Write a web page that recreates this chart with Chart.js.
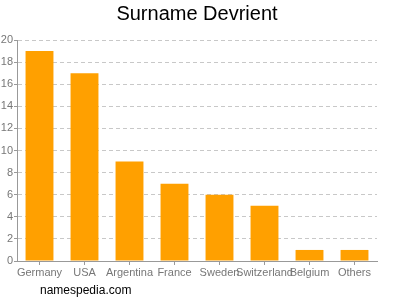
<!DOCTYPE html>
<html>
<head>
<meta charset="utf-8">
<script src="https://cdn.jsdelivr.net/npm/chart.js@4"></script>
<style>
    html, body { margin: 0; padding: 0; background: #fff; }
    #wrap { width: 400px; height: 300px; }
</style>
</head>
<body>
<div id="wrap"><canvas id="chartSurname" width="400" height="300"></canvas></div>
<script>
const countries = ['Germany', 'USA', 'Argentina', 'France', 'Sweden', 'Switzerland', 'Belgium', 'Others'];
const counts = [19, 17, 9, 7, 6, 5, 1, 1];
const yTicks = [0, 2, 4, 6, 8, 10, 12, 14, 16, 18, 20];
const titleText = 'Surname Devrient';
const sourceText = 'namespedia.com';

const FONT = '"Liberation Sans", Arial, sans-serif';

// title and source line are drawn by hand so they sit where the original has them
const extraText = {
    id: 'extraText',
    afterDraw: (chart) => {
        const ctx = chart.ctx;
        ctx.save();
        ctx.fillStyle = '#000';
        ctx.textBaseline = 'middle';
        ctx.font = '20px ' + FONT;
        ctx.textAlign = 'center';
        ctx.fillText(titleText, 197, 14);
        ctx.font = '12px ' + FONT;
        ctx.textAlign = 'left';
        ctx.fillText(sourceText, 40, 291);
        ctx.restore();
    },
};

new Chart(document.getElementById('chartSurname'), {
    type: 'bar',
    data: {
        labels: countries,
        datasets: [
            {
                label: 'Devrient',
                data: counts,
                backgroundColor: '#ffa000',
                categoryPercentage: 1,
                barPercentage: 0.62,
            },
        ],
    },
    options: {
        responsive: false,
        animation: false,
        layout: {
            padding: { left: 0, right: 23, top: 40, bottom: 0 },
        },
        plugins: {
            legend: { display: false },
            tooltip: { enabled: false },
            title: { display: false },
        },
        scales: {
            x: {
                grid: {
                    display: true,
                    offset: false,
                    drawOnChartArea: false,
                    drawTicks: true,
                    tickLength: 4,
                    color: '#999',
                },
                border: { color: '#999' },
                ticks: {
                    color: '#777',
                    padding: 1,
                    maxRotation: 0,
                    autoSkip: false,
                    font: { family: FONT, size: 11 },
                },
                afterFit: (scale) => { scale.height = 39; },
            },
            y: {
                min: 0,
                max: 20,
                afterBuildTicks: (scale) => {
                    scale.ticks = yTicks.map((v) => ({ value: v }));
                },
                grid: {
                    color: '#c8c8c8',
                    tickColor: '#999',
                    tickLength: 3,
                    tickBorderDash: [],
                },
                border: { color: '#999', dash: [4, 3] },
                ticks: {
                    color: '#777',
                    padding: 1,
                    font: { family: FONT, size: 11 },
                },
                afterFit: (scale) => { scale.width = 17; },
            },
        },
    },
    plugins: [extraText],
});
</script>
</body>
</html>
